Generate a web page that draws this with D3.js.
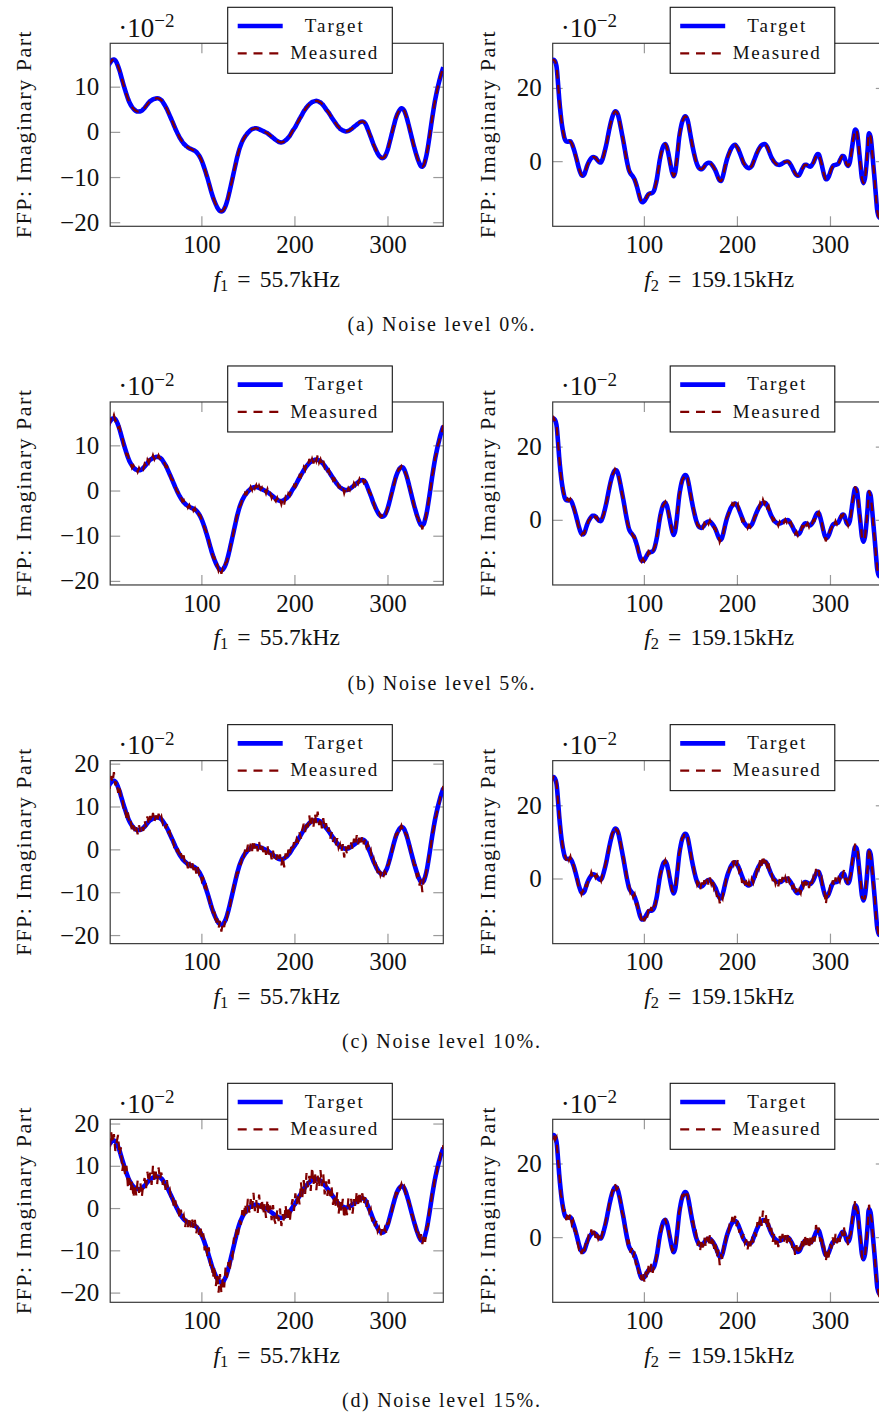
<!DOCTYPE html>
<html>
<head>
<meta charset="utf-8">
<script src="https://cdn.jsdelivr.net/npm/d3@7"></script>
<style>
body { margin: 0; background: #fff; }
svg { display: block; font-family: "Liberation Serif", "Times New Roman", serif; overflow: hidden; }
</style>
</head>
<body>
<svg id="fig" width="879" height="1414"></svg>
<script>
// sample positions (same grid for every series)
var angles = [0,1.5,3,4.5,6,7.5,9,10.5,12,13.5,15,16.5,18,19.5,21,22.5,24,25.5,27,28.5,
  30,31.5,33,34.5,36,37.5,39,40.5,42,43.5,45,46.5,48,49.5,51,52.5,54,55.5,57,58.5,
  60,61.5,63,64.5,66,67.5,69,70.5,72,73.5,75,76.5,78,79.5,81,82.5,84,85.5,87,88.5,
  90,91.5,93,94.5,96,97.5,99,100.5,102,103.5,105,106.5,108,109.5,111,112.5,114,115.5,117,118.5,
  120,121.5,123,124.5,126,127.5,129,130.5,132,133.5,135,136.5,138,139.5,141,142.5,144,145.5,147,148.5,
  150,151.5,153,154.5,156,157.5,159,160.5,162,163.5,165,166.5,168,169.5,171,172.5,174,175.5,177,178.5,
  180,181.5,183,184.5,186,187.5,189,190.5,192,193.5,195,196.5,198,199.5,201,202.5,204,205.5,207,208.5,
  210,211.5,213,214.5,216,217.5,219,220.5,222,223.5,225,226.5,228,229.5,231,232.5,234,235.5,237,238.5,
  240,241.5,243,244.5,246,247.5,249,250.5,252,253.5,255,256.5,258,259.5,261,262.5,264,265.5,267,268.5,
  270,271.5,273,274.5,276,277.5,279,280.5,282,283.5,285,286.5,288,289.5,291,292.5,294,295.5,297,298.5,
  300,301.5,303,304.5,306,307.5,309,310.5,312,313.5,315,316.5,318,319.5,321,322.5,324,325.5,327,328.5,
  330,331.5,333,334.5,336,337.5,339,340.5,342,343.5,345,346.5,348,349.5,351,352.5,354,355.5,357,358.5,
  360];

// target imaginary part (x 1e-2), f1 = 55.7 kHz
var target1 = [14.6,15.2,15.6,15.95,16.0,15.8,15.3,14.5,13.6,12.5,11.4,10.3,9.3,8.3,7.4,6.6,6.0,5.5,5.1,4.8,
  4.6,4.5,4.5,4.55,4.7,5.0,5.3,5.7,6.1,6.5,6.8,7.0,7.2,7.3,7.4,7.45,7.4,7.25,7.0,6.6,
  6.1,5.6,5.0,4.3,3.6,2.9,2.2,1.45,0.7,0.05,-0.6,-1.2,-1.7,-2.2,-2.6,-2.9,-3.2,-3.4,-3.6,-3.75,
  -3.9,-4.05,-4.2,-4.45,-4.8,-5.25,-5.8,-6.5,-7.3,-8.2,-9.2,-10.2,-11.3,-12.4,-13.5,-14.45,-15.3,-16.05,-16.7,-17.2,
  -17.5,-17.6,-17.5,-17.05,-16.4,-15.45,-14.3,-13.0,-11.6,-10.2,-8.8,-7.4,-6.0,-4.8,-3.7,-2.85,-2.1,-1.5,-1.0,-0.6,
  -0.2,0.1,0.4,0.6,0.7,0.78,0.8,0.72,0.6,0.45,0.3,0.15,0.0,-0.15,-0.3,-0.55,-0.8,-1.05,-1.3,-1.55,
  -1.8,-2.0,-2.2,-2.3,-2.35,-2.25,-2.1,-1.85,-1.6,-1.25,-0.9,-0.35,0.2,0.65,1.1,1.7,2.3,2.85,3.4,3.95,
  4.5,4.95,5.4,5.75,6.1,6.35,6.6,6.7,6.8,6.85,6.8,6.65,6.5,6.2,5.9,5.45,5.0,4.6,4.2,3.7,
  3.2,2.75,2.3,1.85,1.4,1.05,0.7,0.5,0.3,0.2,0.1,0.12,0.2,0.4,0.6,0.85,1.1,1.35,1.6,1.85,
  2.1,2.25,2.3,2.2,1.9,1.3,0.5,-0.3,-1.1,-1.95,-2.8,-3.5,-4.2,-4.8,-5.3,-5.6,-5.8,-5.75,-5.5,-4.9,
  -4.1,-3.0,-1.8,-0.55,0.7,1.9,3.0,3.85,4.5,4.95,5.2,5.1,4.7,3.9,2.9,1.75,0.5,-0.75,-2.0,-3.2,
  -4.3,-5.35,-6.3,-7.05,-7.6,-7.7,-7.4,-6.4,-5.1,-3.3,-1.3,0.85,3.0,4.95,6.8,8.35,9.8,11.1,12.3,13.3,
  14.3];

// target imaginary part (x 1e-2), f2 = 159.15 kHz
var target2 = [27.0,27.5,27.7,27.3,26.0,22.0,17.0,13.0,9.8,7.6,6.0,5.4,5.3,5.4,5.4,4.8,3.8,2.6,1.2,-0.3,
  -1.8,-3.0,-3.8,-4.0,-3.6,-2.5,-1.3,-0.4,0.3,0.8,1.1,1.1,0.9,0.45,0.0,-0.3,-0.3,0.5,1.8,3.3,
  5.0,7.0,8.9,10.6,12.0,13.0,13.6,13.5,12.8,11.3,9.4,7.4,5.4,3.2,1.0,-0.9,-2.5,-3.3,-3.8,-4.3,
  -5.0,-6.1,-7.4,-8.9,-10.3,-11.1,-11.2,-10.9,-10.3,-9.6,-9.0,-8.8,-8.8,-8.6,-8.0,-6.6,-4.8,-2.3,0.2,2.1,
  3.5,4.4,4.7,4.0,2.5,0.5,-1.5,-3.2,-4.1,-3.2,-0.5,3.0,6.6,8.9,10.6,11.6,12.2,12.1,11.2,9.4,
  7.2,5.1,3.2,1.5,0.0,-1.1,-1.8,-2.1,-2.2,-1.9,-1.4,-0.9,-0.6,-0.45,-0.5,-0.8,-1.3,-1.9,-2.6,-3.6,
  -4.6,-5.3,-5.4,-4.5,-3.0,-1.3,0.2,1.4,2.4,3.3,3.9,4.3,4.45,4.1,3.5,2.6,1.6,0.6,-0.4,-1.0,
  -1.5,-1.8,-1.9,-1.7,-1.3,-0.4,0.6,1.6,2.5,3.3,3.9,4.35,4.6,4.65,4.5,3.9,3.0,2.0,1.1,0.4,
  -0.2,-0.6,-0.9,-1.0,-1.0,-0.85,-0.6,-0.35,-0.2,-0.1,-0.1,-0.5,-1.1,-1.8,-2.6,-3.3,-3.8,-4.0,-3.8,-3.1,
  -2.2,-1.5,-1.0,-1.0,-1.2,-1.4,-1.5,-1.1,-0.5,0.4,1.3,1.9,1.8,0.7,-0.8,-2.5,-4.0,-4.9,-4.9,-4.3,
  -3.3,-2.2,-1.4,-1.1,-1.0,-0.9,-0.7,0.1,0.9,1.4,1.3,0.3,-0.9,-1.3,-0.6,1.5,4.2,6.8,8.6,8.3,
  6.0,2.3,-1.5,-4.8,-6.0,-4.8,-1.5,3.2,7.6,6.8,3.5,-0.8,-5.1,-9.8,-13.8,-15.2,-15.5,-15.2,-14.5,-13.4,
  -12.0];

// measured minus target (x 1e-2)
var dev1_5 = [0.4,-0.5,0.6,-0.2,0.7,-0.4,0.3,-0.6,0.5,-0.3,0.4,-0.5,0.2,-0.4,0.6,-0.3,0.3,-0.5,0.4,-0.2,
  0.3,-0.4,0.5,-0.2,0.4,-0.3,0.6,-0.3,0.7,-0.4,0.5,-0.3,0.6,-0.4,0.3,-0.5,0.4,-0.2,0.3,-0.3,
  0.2,-0.3,0.4,-0.2,0.3,-0.4,0.2,-0.3,0.3,-0.2,0.3,-0.4,0.4,-0.2,0.5,-0.3,0.2,-0.4,0.4,-0.3,
  0.5,-0.4,0.3,-0.5,0.4,-0.2,0.3,-0.4,0.2,-0.3,0.4,-0.2,0.3,-0.5,0.3,-0.4,0.5,-0.7,0.3,-0.6,
  0.4,-0.8,0.3,-0.5,0.4,-0.3,0.3,-0.4,0.2,-0.3,0.3,-0.2,0.3,-0.3,0.2,-0.3,0.4,-0.3,0.5,-0.2,
  0.6,-0.3,0.4,-0.5,0.7,-0.3,0.4,-0.6,0.5,-0.2,0.4,-0.4,0.3,-0.5,0.6,-0.3,0.2,-0.6,0.5,-0.4,
  -0.6,0.4,-0.3,0.5,-0.7,0.3,-1.0,0.4,-0.4,0.6,-0.2,0.4,-0.3,0.5,-0.3,0.4,-0.2,0.5,-0.4,0.3,
  0.7,-0.4,0.6,-0.3,0.9,-0.5,0.4,-0.7,0.8,-0.3,1.0,-0.5,0.4,-0.6,0.7,-0.4,0.5,-0.3,0.4,-0.6,
  0.4,-0.5,0.3,-0.4,0.6,-0.3,0.2,-0.5,0.4,-0.8,0.3,-0.6,0.4,-0.3,0.5,-0.4,0.6,-0.2,0.7,-0.3,
  0.5,-0.3,0.4,-0.5,0.2,-0.4,0.3,-0.2,0.5,-0.4,0.3,-0.5,0.2,-0.3,0.4,-0.2,0.3,-0.4,0.2,-0.3,
  0.2,-0.3,0.2,-0.3,0.2,-0.2,0.3,-0.2,0.3,-0.2,0.2,-0.3,0.2,-0.2,0.3,-0.2,0.2,-0.3,0.2,-0.3,
  0.3,-0.4,0.3,-0.6,0.3,-0.9,0.4,-0.5,0.3,-0.3,0.3,-0.2,0.3,-0.2,0.3,-0.3,0.2,-0.3,0.2,-0.2,
  0.2];
var dev1_10 = [0.8,-1.1,1.5,-0.4,2.0,-0.9,0.6,-1.3,1.2,-0.5,0.9,-1.2,0.4,-1.0,1.3,-0.6,0.7,-1.4,0.5,-0.8,
  0.6,-1.0,1.1,-0.4,0.8,-0.7,1.4,-0.5,1.6,-0.8,1.0,-0.6,1.3,-0.9,0.5,-1.1,0.9,-0.3,0.7,-0.6,
  0.5,-0.7,0.9,-0.3,0.6,-0.8,0.4,-0.6,0.7,-0.4,0.5,-0.9,0.8,-0.5,1.2,-0.7,0.4,-1.0,0.9,-0.6,
  1.1,-0.8,0.6,-1.2,0.9,-0.4,0.7,-0.9,0.5,-0.6,0.8,-0.5,0.6,-1.0,0.7,-0.8,1.0,-1.5,0.6,-1.2,
  0.8,-1.6,0.5,-1.1,0.9,-0.6,0.7,-0.8,0.4,-0.5,0.6,-0.4,0.5,-0.7,0.3,-0.6,0.8,-0.5,1.0,-0.4,
  1.3,-0.7,0.9,-1.0,1.5,-0.6,0.8,-1.2,1.1,-0.5,0.9,-0.8,0.6,-1.1,1.2,-0.7,0.5,-1.3,1.0,-0.9,
  -1.2,0.8,-0.6,1.1,-1.4,0.7,-2.1,0.9,-0.8,1.2,-0.5,0.9,-0.7,1.0,-0.6,0.8,-0.4,1.1,-0.9,0.7,
  1.5,-0.9,1.2,-0.6,1.8,-1.1,0.8,-1.4,1.6,-0.7,2.0,-1.0,0.9,-1.3,1.4,-0.8,1.1,-0.6,0.9,-1.2,
  0.8,-1.0,0.6,-0.9,1.2,-0.7,0.5,-1.1,0.9,-2.1,0.6,-1.3,0.8,-0.6,1.0,-0.8,1.4,-0.5,1.7,-0.7,
  1.2,-0.6,0.9,-1.0,0.5,-0.8,0.7,-0.4,1.0,-0.9,0.6,-1.1,0.4,-0.7,0.8,-0.5,0.6,-0.8,0.4,-0.6,
  0.4,-0.5,0.3,-0.6,0.4,-0.3,0.5,-0.4,0.6,-0.3,0.4,-0.5,0.3,-0.4,0.5,-0.3,0.4,-0.6,0.3,-0.5,
  0.6,-0.9,0.5,-1.4,0.7,-2.3,0.8,-1.1,0.5,-0.7,0.6,-0.5,0.7,-0.4,0.5,-0.6,0.4,-0.5,0.3,-0.4,
  0.5];
var dev1_15 = [1.2,-1.8,2.4,-0.6,1.5,-2.3,0.4,2.8,-1.1,1.9,-2.6,0.8,-1.4,1.7,-2.2,0.5,-1.9,1.1,-2.7,0.9,
  -1.6,2.0,-0.9,1.3,-2.1,0.7,1.8,-1.2,2.5,-0.4,1.6,-1.5,2.9,-0.7,1.2,-1.8,2.2,-0.5,1.4,-1.1,
  0.9,-1.3,1.6,-0.5,0.8,-1.0,0.4,-1.2,1.1,-0.6,0.7,-1.4,1.3,-0.3,0.9,-1.6,0.6,-1.1,1.5,-0.8,
  1.2,-0.7,1.4,-1.5,0.6,-1.1,1.7,-0.9,1.3,-1.8,0.8,-1.4,2.0,-1.2,0.9,-2.1,1.6,-2.4,1.1,-2.8,
  1.9,-2.5,0.9,-1.7,2.3,-1.0,1.5,-1.9,0.7,-1.3,1.8,-0.6,1.2,-1.5,0.8,-1.1,1.6,-0.9,2.1,-0.7,
  2.4,-1.2,1.7,-0.8,2.9,-1.5,1.1,-2.0,2.6,-0.6,1.8,-1.7,0.9,-2.2,2.3,-1.0,1.4,-1.8,2.0,-1.3,
  -2.1,1.5,-0.9,2.2,-1.9,0.8,-1.4,2.6,-1.1,1.7,-2.4,0.6,1.9,-1.3,2.4,-0.7,1.2,-2.0,2.7,-1.4,
  2.1,-1.6,2.9,-0.8,1.5,-2.3,3.1,-1.2,1.8,-2.6,0.9,-1.9,2.5,-1.0,2.2,-2.2,1.3,-1.7,2.6,-0.9,
  1.7,-2.0,0.8,-1.5,2.3,-2.4,1.1,-1.3,1.9,-2.7,0.7,-1.8,2.1,-0.9,1.6,-2.2,1.0,-1.1,2.4,-1.6,
  1.8,-0.9,1.2,-1.4,0.7,-1.0,1.3,-0.6,0.9,-1.2,0.5,-0.8,1.1,-0.7,0.6,-1.0,0.8,-0.5,0.7,-0.9,
  0.5,-0.6,0.4,-0.7,0.3,-0.5,0.6,-0.4,0.7,-0.3,0.5,-0.6,0.4,-0.5,0.6,-0.3,0.5,-0.7,0.4,-0.6,
  0.9,-1.3,0.7,-1.1,1.4,-0.8,1.2,-1.6,0.6,-1.0,0.9,-0.7,1.1,-0.5,0.8,-0.9,0.6,-0.7,0.5,-0.8,
  0.6];
var dev2_5 = [0.3,-0.4,0.2,-0.3,0.4,-0.2,0.3,-0.5,0.3,-0.2,0.4,-0.3,0.5,-0.2,0.3,-0.4,0.2,-0.3,0.2,-0.3,
  -0.4,0.2,-0.3,0.4,-0.2,0.3,-0.4,0.3,-0.2,0.5,-0.3,0.2,-0.4,0.3,-0.2,0.3,-0.2,0.3,-0.2,0.2,
  0.2,-0.2,0.3,-0.2,0.2,-0.1,0.3,-0.2,0.2,-0.2,0.2,-0.3,0.2,-0.2,0.4,-0.3,0.5,-0.3,0.3,-0.4,
  0.4,-0.5,0.3,-0.4,0.5,-0.2,0.6,-0.4,0.3,-0.6,0.4,-0.3,0.5,-0.4,0.3,-0.3,0.2,-0.2,0.3,-0.2,
  0.2,-0.2,0.2,-0.3,0.2,-0.2,0.2,-0.2,0.3,-0.1,0.2,-0.2,0.2,-0.2,0.3,-0.2,0.2,-0.2,0.2,-0.2,
  0.2,-0.3,0.4,-0.2,0.5,-0.4,0.3,-0.5,0.6,-0.3,0.5,-0.6,0.3,-0.7,0.4,-0.4,0.5,-0.5,0.3,-0.7,
  0.4,-0.8,0.3,-0.6,0.5,-0.3,0.4,-0.3,0.3,-0.2,0.6,-0.3,0.5,-0.4,0.8,-0.5,0.3,-0.9,0.4,-0.2,
  0.3,-0.5,0.5,-0.3,0.6,-0.4,0.3,-0.5,0.6,-0.3,0.7,-0.5,0.9,-0.3,0.7,-0.6,0.8,-0.4,0.5,-0.6,
  0.4,-0.5,0.3,-0.6,0.5,-0.3,0.5,-0.4,0.3,-0.6,0.4,-0.3,0.5,-0.4,0.3,-0.5,0.6,-0.3,0.4,-0.5,
  0.5,-0.4,0.6,-0.5,0.3,-0.6,0.5,-0.3,0.4,-0.6,0.7,-0.4,0.3,-0.7,0.5,-0.5,0.3,-1.0,0.4,-0.4,
  0.5,-0.3,0.5,-0.5,0.7,-0.3,0.4,-0.5,0.3,-0.4,0.5,-0.3,0.4,-0.3,0.3,-0.2,0.4,-0.2,0.5,-0.3,
  0.6,-0.2,0.4,-0.3,0.3,-0.4,0.2,-0.2,0.4,-0.3,0.3,-0.2,0.2,-0.3,0.2,-0.2,0.2,-0.2,0.2,-0.2,
  0.2];
var dev2_10 = [0.5,-0.8,0.4,-0.6,0.7,-0.4,0.6,-0.9,0.5,-0.3,0.8,-0.5,1.0,-0.4,0.6,-0.8,0.4,-0.6,0.3,-0.5,
  -0.8,0.4,-0.5,0.7,-0.3,0.6,-0.8,0.5,-0.3,0.9,-0.6,0.4,-0.7,0.5,-0.3,0.5,-0.4,0.6,-0.3,0.4,
  0.4,-0.3,0.5,-0.3,0.4,-0.2,0.6,-0.4,0.3,-0.3,0.4,-0.5,0.3,-0.4,0.7,-0.5,0.9,-0.6,0.5,-0.8,
  0.7,-1.0,0.5,-0.7,0.9,-0.4,1.1,-0.8,0.6,-1.1,0.8,-0.5,1.0,-0.7,0.5,-0.6,0.4,-0.3,0.5,-0.3,
  0.3,-0.4,0.3,-0.5,0.3,-0.3,0.4,-0.3,0.5,-0.2,0.4,-0.3,0.3,-0.4,0.5,-0.3,0.3,-0.4,0.3,-0.3,
  0.4,-0.5,0.7,-0.4,0.9,-0.8,0.5,-1.0,1.1,-0.6,0.9,-1.1,0.5,-1.3,0.8,-0.7,1.0,-0.9,0.6,-1.4,
  0.8,-1.5,0.5,-1.1,0.9,-0.6,0.7,-0.5,0.5,-0.3,1.1,-0.5,0.9,-0.7,1.6,-0.9,0.5,-1.8,0.8,-0.4,
  0.6,-1.0,0.9,-0.5,1.2,-0.7,0.5,-0.9,1.1,-0.6,1.4,-0.9,1.7,-0.5,1.3,-1.1,1.5,-0.7,0.9,-1.1,
  0.7,-0.9,0.5,-1.1,0.9,-0.6,1.0,-0.8,0.5,-1.1,0.8,-0.5,0.9,-0.7,0.6,-1.0,1.1,-0.5,0.7,-0.9,
  0.9,-0.7,1.1,-0.9,0.6,-1.2,1.0,-0.5,0.8,-1.1,1.3,-0.7,0.5,-1.3,0.9,-0.9,0.6,-2.2,0.7,-0.8,
  1.0,-0.6,0.9,-1.0,1.3,-0.5,0.8,-0.9,0.6,-0.7,1.0,-0.5,0.8,-0.6,0.5,-0.4,0.7,-0.3,0.9,-0.5,
  1.2,-0.4,0.7,-0.5,0.5,-0.7,0.4,-0.3,0.8,-0.5,0.5,-0.4,0.3,-0.5,0.4,-0.3,0.3,-0.4,0.3,-0.3,
  0.3];
var dev2_15 = [0.8,-1.2,0.5,-0.9,1.1,-0.6,0.9,-1.4,0.7,-0.5,1.2,-0.8,1.5,-0.6,0.9,-1.3,0.6,-0.9,0.4,-0.7,
  -1.3,0.6,-0.8,1.1,-0.5,0.9,-1.2,0.7,-0.4,1.3,-0.9,0.6,-1.1,0.8,-0.5,0.7,-0.6,0.9,-0.4,0.5,
  0.6,-0.4,0.8,-0.5,0.7,-0.3,0.9,-0.6,0.5,-0.4,0.6,-0.8,0.4,-0.6,1.0,-0.7,1.3,-0.9,0.8,-1.2,
  1.1,-1.5,0.7,-1.0,1.4,-0.6,1.6,-1.2,0.9,-1.7,1.2,-0.8,1.5,-1.1,0.7,-0.9,0.6,-0.5,0.7,-0.4,
  0.5,-0.6,0.4,-0.7,0.5,-0.4,0.6,-0.5,0.8,-0.3,0.6,-0.5,0.4,-0.6,0.7,-0.4,0.5,-0.6,0.4,-0.5,
  0.6,-0.8,1.1,-0.6,1.4,-1.2,0.8,-1.5,1.7,-0.9,1.3,-1.6,0.7,-1.9,1.2,-1.0,1.5,-1.3,0.9,-2.0,
  1.2,-2.3,0.8,-1.6,1.4,-0.9,1.1,-0.7,0.8,-0.5,1.6,-0.8,1.3,-1.1,0.9,-1.4,0.7,-1.0,1.2,-0.6,
  0.9,-1.5,1.3,-0.8,1.8,-1.1,0.7,-1.4,1.6,-0.9,2.1,-1.3,2.6,-0.8,1.9,-1.6,2.3,-1.0,1.4,-1.7,
  1.1,-1.4,0.8,-1.7,1.3,-0.9,1.5,-1.2,0.7,-1.6,1.2,-0.8,1.4,-1.1,0.9,-1.5,1.6,-0.7,1.1,-1.3,
  1.4,-1.0,1.7,-1.3,0.9,-1.8,1.5,-0.8,1.2,-1.6,2.0,-1.1,0.8,-1.9,1.3,-1.4,0.9,-1.7,1.1,-1.2,
  1.6,-0.9,1.3,-1.5,1.9,-0.8,1.2,-1.4,0.9,-1.1,1.5,-0.7,1.2,-0.9,0.8,-0.6,1.0,-0.5,1.4,-0.8,
  0.9,-0.6,1.1,-0.8,0.7,-1.0,0.6,-0.5,1.2,-0.7,0.8,-0.6,0.5,-0.7,0.6,-0.4,0.5,-0.6,0.4,-0.5,
  0.4];

var noiseLevels = ["0%", "5%", "10%", "15%"];
var rowLetters = ["a", "b", "c", "d"];
var freqLabels = ["55.7kHz", "159.15kHz"];
var xDomain = [2, 360];
var xTicks = [100, 200, 300];
var yDomainF1 = [[-20.9, 19.6], [-20.9, 19.6], [-22.0, 20.7], [-22.3, 21.0]];
var yDomainF2 = [[-17.8, 32.2], [-17.8, 32.2], [-17.8, 32.2], [-17.7, 32.0]];
var yTicksF1 = [-20, -10, 0, 10, 20];
var yTicksF2 = [0, 20];
var devF1 = [null, dev1_5, dev1_10, dev1_15];
var devF2 = [null, dev2_5, dev2_10, dev2_15];

var svg = d3.select("#fig");
var rowTop0 = 43.3, rowGap = 358.67, boxW = 333.1, boxH = 183;
var colLeft = [110.2, 552.7];
var blue = "#0000ff", darkRed = "#800000";

function styleAxis(sel) {
    sel.attr("font-family", null).attr("font-size", 25);
    sel.select(".domain").remove();
    sel.selectAll(".tick line").attr("stroke", "#9a9a9a").attr("stroke-width", 1.2);
    sel.selectAll(".tick text").attr("fill", "#111");
}

function panel(r, c) {
    var left = colLeft[c], top = rowTop0 + r * rowGap;
    var targ = c === 0 ? target1 : target2;
    var dev = (c === 0 ? devF1 : devF2)[r];
    var yDom = (c === 0 ? yDomainF1 : yDomainF2)[r];
    var yT = (c === 0 ? yTicksF1 : yTicksF2).filter(function(t) { return t >= yDom[0] && t <= yDom[1]; });

    var x = d3.scaleLinear().domain(xDomain).range([left, left + boxW]);
    var y = d3.scaleLinear().domain(yDom).range([top + boxH, top]);

    var g = svg.append("g");
    var clipId = "clip" + r + c;
    g.append("clipPath").attr("id", clipId).append("rect")
        .attr("x", left).attr("y", top).attr("width", boxW).attr("height", boxH);

    // ticks, all pointing inwards
    g.append("g").attr("transform", "translate(0," + (top + boxH) + ")")
        .call(d3.axisBottom(x).tickValues(xTicks).tickSize(-10).tickPadding(9)).call(styleAxis);
    g.append("g").attr("transform", "translate(0," + top + ")")
        .call(d3.axisTop(x).tickValues(xTicks).tickSize(-10).tickFormat("")).call(styleAxis);
    g.append("g").attr("transform", "translate(" + left + ",0)")
        .call(d3.axisLeft(y).tickValues(yT).tickSize(-10).tickPadding(11)).call(styleAxis);
    g.append("g").attr("transform", "translate(" + (left + boxW) + ",0)")
        .call(d3.axisRight(y).tickValues(yT).tickSize(-10).tickFormat("")).call(styleAxis);

    g.append("rect")
        .attr("x", left).attr("y", top).attr("width", boxW).attr("height", boxH)
        .attr("fill", "none").attr("stroke", "#3a3a3a").attr("stroke-width", 1.2);

    var meas = targ.map(function(v, i) { return dev ? v + (dev[i] || 0) : v; });

    var lineT = d3.line()
        .x(function(d, i) { return x(angles[i]); })
        .y(function(d) { return y(d); })
        .curve(d3.curveCatmullRom.alpha(0.5));
    var lineM = d3.line()
        .x(function(d, i) { return x(angles[i]); })
        .y(function(d) { return y(d); })
        .curve(dev ? d3.curveLinear : d3.curveCatmullRom.alpha(0.5));

    var plots = g.append("g").attr("clip-path", "url(#" + clipId + ")");
    plots.append("path").datum(targ)
        .attr("d", lineT).attr("fill", "none")
        .attr("stroke", blue).attr("stroke-width", 4.6).attr("stroke-linejoin", "round");
    plots.append("path").datum(meas)
        .attr("d", lineM).attr("fill", "none")
        .attr("stroke", darkRed).attr("stroke-width", 2.2).attr("stroke-dasharray", "8.5,6.5");

    // scale factor above the axis
    var sf = g.append("text").attr("x", left + 8).attr("y", top - 6.6).attr("font-size", 27).attr("fill", "#111");
    sf.append("tspan").text("\u00b710");
    sf.append("tspan").attr("font-size", 19).attr("dy", -9.5).text("\u22122");

    // y label
    var lx = c === 0 ? left - 79.5 : left - 57.7;
    g.append("text")
        .attr("transform", "translate(" + lx + "," + (top + boxH / 2) + ") rotate(-90)")
        .attr("text-anchor", "middle").attr("font-size", 22).attr("fill", "#111")
        .attr("textLength", 207).attr("lengthAdjust", "spacing")
        .text("FFP: Imaginary Part");

    // x label
    var xl = g.append("text").attr("x", left + boxW / 2).attr("y", top + 243.4)
        .attr("text-anchor", "middle").attr("font-size", 23.5).attr("fill", "#111");
    xl.append("tspan").attr("font-style", "italic").text("f");
    xl.append("tspan").attr("font-size", 16.5).attr("dy", 4).text(String(c + 1));
    xl.append("tspan").attr("dy", -4).attr("dx", 9).text("=");
    xl.append("tspan").attr("dx", 9).text(freqLabels[c]);

    // legend
    var lg = g.append("g").attr("transform", "translate(" + (left + 117.5) + "," + (top - 36) + ")");
    lg.append("rect").attr("width", 164.6).attr("height", 66)
        .attr("fill", "#fff").attr("stroke", "#111").attr("stroke-width", 1.1);
    lg.append("line").attr("x1", 10).attr("x2", 55).attr("y1", 18.7).attr("y2", 18.7)
        .attr("stroke", blue).attr("stroke-width", 4.6);
    lg.append("line").attr("x1", 10).attr("x2", 55).attr("y1", 46).attr("y2", 46)
        .attr("stroke", darkRed).attr("stroke-width", 2.2).attr("stroke-dasharray", "9,6.8");
    lg.append("text").attr("x", 106).attr("y", 24.4).attr("text-anchor", "middle")
        .attr("font-size", 19).attr("fill", "#111")
        .attr("textLength", 58).attr("lengthAdjust", "spacing").text("Target");
    lg.append("text").attr("x", 106).attr("y", 51.7).attr("text-anchor", "middle")
        .attr("font-size", 19).attr("fill", "#111")
        .attr("textLength", 87).attr("lengthAdjust", "spacing").text("Measured");
}

for (var r = 0; r < 4; r++) {
    panel(r, 0);
    panel(r, 1);
    svg.append("text")
        .attr("x", 441).attr("y", rowTop0 + r * rowGap + 287.7)
        .attr("text-anchor", "middle").attr("font-size", 20).attr("fill", "#111")
        .attr("textLength", r < 2 ? 187 : 198)
        .attr("lengthAdjust", "spacing")
        .text("(" + rowLetters[r] + ") Noise level " + noiseLevels[r] + ".");
}
</script>
</body>
</html>
